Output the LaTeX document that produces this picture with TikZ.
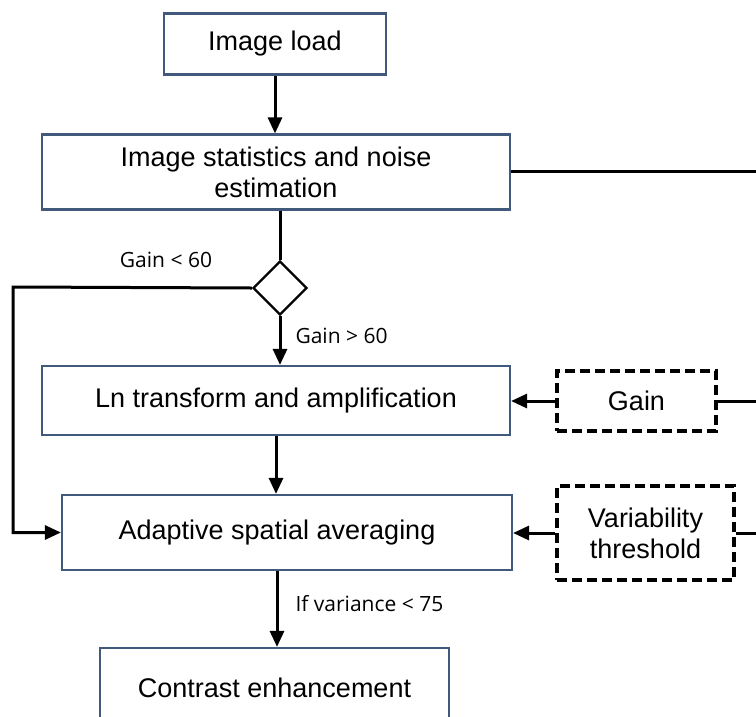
\documentclass[tikz,border=0pt]{standalone}
\usepackage{fontspec}
\setmainfont{Liberation Sans}
\newfontfamily\lblfont{Open Sans}
\usetikzlibrary{arrows.meta,shapes.geometric}

\definecolor{boxline}{HTML}{41597A}

\tikzset{
  blk/.style={draw=boxline, line width=2.2pt, fill=white, inner sep=0pt,
              align=center, font=\fontsize{27}{31}\selectfont},
  dblk/.style={draw=black, line width=3.2pt, dash pattern=on 10pt off 5pt,
               inner sep=0pt, align=center, font=\fontsize{27}{31}\selectfont},
  arr/.style={line width=3pt, -{Triangle[length=16pt,width=14pt]}},
  lnk/.style={line width=3pt},
  cond/.style={font=\lblfont\fontsize{21}{24}\selectfont},
}

\begin{document}
\begin{tikzpicture}[x=1pt, y=-1pt]
\useasboundingbox (0,0) rectangle (756,716);
\clip (0,0) rectangle (756,716);

  % Blocks
  \node[blk, minimum width=222pt, minimum height=61pt] (load) at (275,44) {Image load};
  \node[blk, minimum width=468pt, minimum height=75pt] (stats) at (276,172)
       {Image statistics and noise\\estimation};
  \node[draw=black, line width=2.4pt, diamond, aspect=1, inner sep=0pt,
        minimum size=54pt] (dec) at (280,288) {};
  \node[blk, minimum width=468pt, minimum height=69pt] (ln) at (276,400.5)
       {Ln transform and amplification};
  \node[blk, minimum width=450pt, minimum height=75pt] (avg) at (287,532.5)
       {\hspace*{-20pt}Adaptive spatial averaging};
  \node[blk, minimum width=349pt, minimum height=80pt] (contrast) at (274.5,688)
       {Contrast enhancement};

  % Parameters
  \node[dblk, minimum width=159pt, minimum height=60pt] (gain) at (636.5,401) {Gain};
  \node[dblk, minimum width=177pt, minimum height=94pt] (thr) at (645.5,533)
       {Variability\\threshold};

  % Free ends
  \coordinate (e1) at (756,171);
  \coordinate (e2) at (756,401);
  \coordinate (e3) at (756,533);
  \coordinate (lbend) at (13,287);

  % Flow
  \draw[arr] (load) -- (load |- stats.north);
  \draw[lnk] (stats.south -| dec.north) -- (dec.north);
  \draw[arr] (dec.south) -- (dec.south |- ln.north);
  \draw[arr] (ln.south) -- (ln.south |- avg.north);
  \draw[arr] (avg.south -| 277,0) -- (contrast.north -| 277,0);
  \draw[arr] (dec.west) -- (lbend) |- (avg.west);
  \draw[arr] (gain.west) -- (ln.east |- gain.west);
  \draw[arr] (thr.west) -- (avg.east |- thr.west);
  \draw[lnk] (stats.east |- e1) -- (e1);
  \draw[lnk] (gain.east) -- (e2);
  \draw[lnk] (thr.east) -- (e3);

  % Conditions
  \node[cond] (lt) at (166,260) {Gain < 60};
  \node[cond, anchor=west] (gt) at (292,336) {Gain > 60};
  \node[cond, anchor=west] (var) at (292,604) {If variance < 75};
\end{tikzpicture}
\end{document}
